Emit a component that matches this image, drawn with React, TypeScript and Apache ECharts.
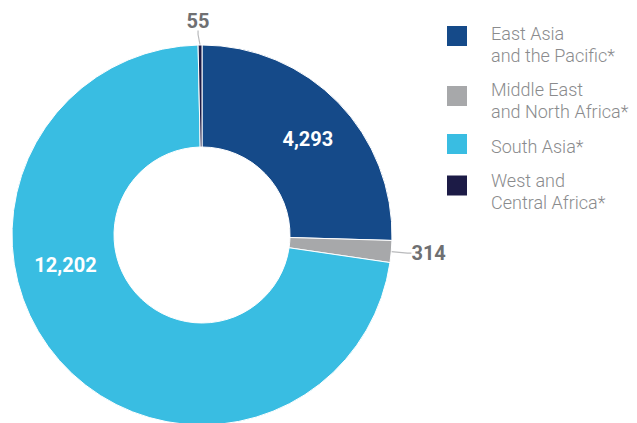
import React, { useEffect, useRef } from 'react';
import * as echarts from 'echarts';

const categories = [
  'East Asia\nand the Pacific*',
  'Middle East\nand North Africa*',
  'South Asia*',
  'West and\nCentral Africa*',
];
const values = [4293, 314, 12202, 55];
const colors = ['#154a89', '#a7a8aa', '#39bde2', '#1c1b46'];
const labelPlacement = ['inside', 'outside', 'inside', 'outside'];

const legendTops = [6, 69.5, 131, 157.5];
const legendSpacer = [16, 9, 4, 12];

const FONT = 'Roboto, "Helvetica Neue", Arial, sans-serif';

export default function App() {
  const ref = useRef<HTMLDivElement>(null);

  useEffect(() => {
    if (!ref.current) return;
    const chart = echarts.init(ref.current, undefined, { renderer: 'svg' });

    const data = categories.map((name, i) => {
      const inside = labelPlacement[i] === 'inside';
      return {
        name,
        value: values[i],
        itemStyle: { color: colors[i] },
        label: {
          show: true,
          position: labelPlacement[i],
          color: inside ? '#ffffff' : '#6f7072',
          fontSize: 20,
          fontWeight: 'bold',
          fontFamily: FONT,
        },
        labelLine: {
          show: !inside,
          lineStyle: { color: '#b9babc', width: 1.2 },
          length: 8,
          length2: 4,
        },
      };
    });

    const legends = categories.map((name, i) => ({
      show: true,
      orient: 'vertical',
      left: 445,
      top: legendTops[i],
      padding: 0,
      itemWidth: 22,
      itemHeight: 22,
      icon: 'rect',
      selectedMode: false,
      data: [name],
      formatter: (n: string) =>
        '{s| }\n' + n.split('\n').map((l) => `{t|${l}}`).join('\n'),
      textStyle: {
        fontFamily: FONT,
        fontSize: 18,
        fontWeight: 300,
        lineHeight: 22,
        color: '#8a8b8d',
        padding: [0, 0, 0, 18],
        rich: {
          s: { fontSize: 1, lineHeight: legendSpacer[i] },
          t: {
            fontFamily: FONT,
            fontSize: 18,
            fontWeight: 300,
            lineHeight: 22,
            color: '#8a8b8d',
          },
        },
      },
    }));

    chart.setOption({
      animation: false,
      backgroundColor: '#ffffff',
      legend: legends,
      series: [
        {
          type: 'pie',
          center: [202, 235],
          radius: [88, 190],
          startAngle: 90,
          clockwise: true,
          avoidLabelOverlap: false,
          itemStyle: { borderColor: '#ffffff', borderWidth: 1 },
          label: {
            formatter: (p: any) => Number(p.value).toLocaleString('en-US'),
          },
          emphasis: { disabled: true },
          labelLayout: (p: any) => {
            const r = p.rect;
            switch (p.dataIndex) {
              case 0:
                return { dx: 4, dy: 3 };
              case 1:
                return { x: r.x + r.width + 19, y: r.y + r.height / 2 + 3, align: 'left', verticalAlign: 'middle' };
              case 2:
                return { dx: -30, dy: -64 };
              case 3:
                return { x: r.x + r.width / 2 - 2, y: r.y - 24, align: 'center', verticalAlign: 'middle' };
              default:
                return {};
            }
          },
          data,
        },
      ],
    });

    return () => chart.dispose();
  }, []);

  return (
    <div
      ref={ref}
      style={{ position: 'fixed', left: 0, top: 0, width: 637, height: 423 }}
    />
  );
}
